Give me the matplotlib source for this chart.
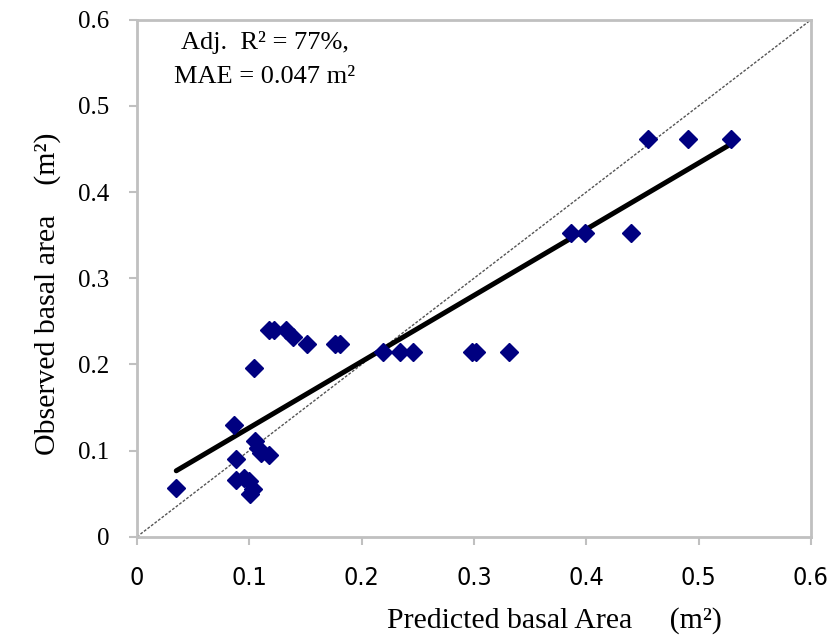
import numpy as np
import matplotlib
matplotlib.use("Agg")
import matplotlib.pyplot as plt

# predicted vs observed basal area (m2)
predicted = [0.035, 0.086, 0.088, 0.088, 0.095, 0.100, 0.103, 0.101,
             0.105, 0.108, 0.110, 0.118, 0.104, 0.118, 0.122, 0.133,
             0.139, 0.151, 0.176, 0.181, 0.219, 0.234, 0.246, 0.298,
             0.302, 0.331, 0.386, 0.399, 0.440, 0.455, 0.491, 0.529]
observed = [0.057, 0.130, 0.090, 0.066, 0.068, 0.065, 0.055, 0.050,
            0.111, 0.103, 0.097, 0.095, 0.196, 0.240, 0.240, 0.240,
            0.232, 0.224, 0.224, 0.224, 0.215, 0.215, 0.215, 0.215,
            0.215, 0.215, 0.353, 0.352, 0.353, 0.462, 0.462, 0.462]

# fitted trend line as drawn in the figure
fit_slope = 0.768
fit_intercept = 0.0497

ticks = [0, 0.1, 0.2, 0.3, 0.4, 0.5, 0.6]
tick_labels = ["0", "0.1", "0.2", "0.3", "0.4", "0.5", "0.6"]

serif = ["Liberation Serif", "DejaVu Serif"]
narrow = ["Liberation Sans Narrow", "DejaVu Sans"]
grey = "#c0c0c0"

fig = plt.figure(figsize=(8.3, 6.39), dpi=100)
ax = fig.add_axes([0.165, 0.16, 0.812, 0.809])

ax.plot([0, 0.6], [0, 0.6], color="#555555", lw=1.0, ls=(0, (2, 1.2)), zorder=1)

xs = np.array([min(predicted), max(predicted)])
ax.plot(xs, fit_slope * xs + fit_intercept, color="black", lw=3.6,
        solid_capstyle="round", zorder=2)

ax.plot(predicted, observed, ls="none", marker="D", ms=9.5,
        color="#000080", mec="#000080", zorder=3)

ax.set_xlim(0, 0.6)
ax.set_ylim(0, 0.6)
ax.set_xticks(ticks)
ax.set_yticks(ticks)
ax.set_xticklabels(tick_labels, family=narrow, fontstretch="condensed",
                   fontsize=18)
ax.set_yticklabels(tick_labels, family=serif, fontsize=18)
ax.tick_params(axis="x", length=6, color=grey, width=1.5, pad=15)
ax.tick_params(axis="y", length=6, color=grey, width=1.5, pad=14)
for sp in ax.spines.values():
    sp.set_color(grey)
    sp.set_linewidth(2)

ax.set_xlabel("Predicted basal Area     (m\u00b2)", family=serif,
              fontsize=21.5, labelpad=12, x=0.62)
ax.set_ylabel("Observed basal area    (m\u00b2)", family=serif,
              fontsize=21.5, labelpad=12, y=0.47)

ax.text(0.114, 0.574, "Adj.  R\u00b2 = 77%,", family=serif, fontsize=19,
        ha="center", va="center")
ax.text(0.114, 0.534, "MAE = 0.047 m\u00b2", family=serif, fontsize=19,
        ha="center", va="center")

fig.savefig("out.png", dpi=100)
